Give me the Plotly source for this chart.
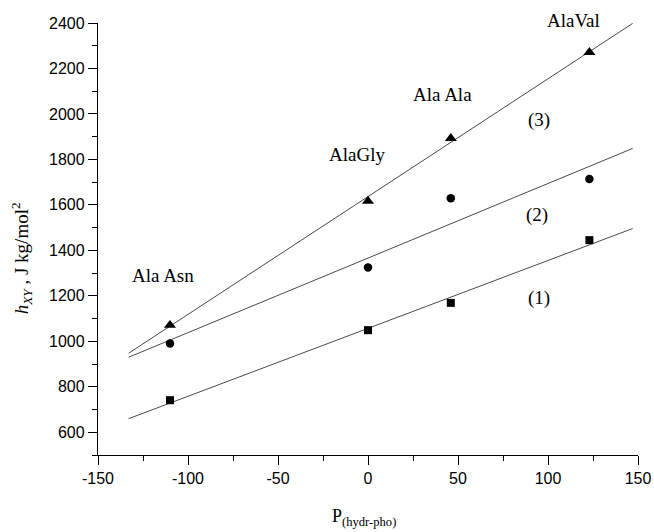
import numpy as np
import plotly.graph_objects as go

# ---- data ----
p_hydr_pho = [-110, 0, 46, 123]                  # x values of the dipeptides
peptides = ["Ala Asn", "AlaGly", "Ala Ala", "AlaVal"]
h_series1 = [741, 1049, 1169, 1445]               # (1) squares
h_series2 = [990, 1325, 1629, 1714]               # (2) circles
h_series3 = [1071, 1617, 1893, 2271]              # (3) triangles
series_names = ["(1)", "(2)", "(3)"]
fit_span = [-133, 147]                            # extent of fitted lines
x_ticks = [-150, -100, -50, 0, 50, 100, 150]
x_tick_text = ["-150", "-100", "-50", "0", "50", "100", "150"]

# ---- placement of text labels (layout, not data) ----
peptide_label_pos = [(-114, 1290), (-6, 1820), (41.5, 2085), (114, 2410)]
series_label_pos = [(95, 1190), (94, 1555), (95, 1975)]

serif = "Liberation Serif, Times New Roman, serif"
sans = "Liberation Sans, Arial, sans-serif"
line_col = "#4a4a4a"
y_range = [500, 2400]

fig = go.Figure()
series = [h_series1, h_series2, h_series3]
symbols = ["square", "circle", "triangle-up"]
msizes = [8, 8.5, 10.5]
xs = np.array(p_hydr_pho, dtype=float)
fx = np.array(fit_span, dtype=float)
for ys, sym, ms, nm in zip(series, symbols, msizes, series_names):
    k, b = np.polyfit(xs, np.array(ys, dtype=float), 1)
    fig.add_trace(go.Scatter(x=fx, y=k * fx + b, mode="lines",
                             line=dict(color=line_col, width=1),
                             showlegend=False, hoverinfo="skip"))
    fig.add_trace(go.Scatter(x=p_hydr_pho, y=ys, mode="markers", name=nm,
                             marker=dict(symbol=sym, size=ms, color="black"),
                             showlegend=False))

ann = []
for (ax_, ay_), t in zip(peptide_label_pos, peptides):
    py = (ay_ - y_range[0]) / (y_range[1] - y_range[0])
    ann.append(dict(x=ax_, y=py, yref="paper", text=t, showarrow=False,
                    xanchor="center", yanchor="middle",
                    font=dict(family=serif, size=19, color="black")))
for (ax_, ay_), t in zip(series_label_pos, series_names):
    ann.append(dict(x=ax_, y=ay_, text=t, showarrow=False,
                    xanchor="center", yanchor="middle",
                    font=dict(family=serif, size=19, color="black")))
ann.append(dict(xref="paper", yref="paper", x=0.493, y=-0.1436,
                xanchor="center", yanchor="middle", showarrow=False,
                text="P<sub>(hydr-pho)</sub>",
                font=dict(family=serif, size=18, color="black")))
ann.append(dict(xref="paper", yref="paper", x=-0.1420, y=0.456,
                xanchor="center", yanchor="middle", showarrow=False,
                textangle=-90,
                text="<i>h</i><sub><i>XY</i></sub> , J kg/mol<sup>2</sup>",
                font=dict(family=serif, size=19, color="black")))

axis_common = dict(showgrid=False, zeroline=False, showline=True,
                   automargin=False,
                   linecolor="black", linewidth=1.3, ticks="outside",
                   ticklen=9, tickwidth=1.3, tickcolor="black",
                   tickfont=dict(family=sans, size=16, color="black"))

fig.update_layout(
    width=654, height=532,
    margin=dict(l=98, r=16, t=23, b=77, autoexpand=False),
    paper_bgcolor="white", plot_bgcolor="white",
    annotations=ann,
    xaxis=dict(range=[-150, 150], tickvals=x_ticks, ticktext=x_tick_text,
               minor=dict(dtick=25, ticks="outside", ticklen=5,
                          tickwidth=1.3, tickcolor="black", showgrid=False),
               **axis_common),
    yaxis=dict(range=y_range, dtick=200, tick0=600,
               minor=dict(dtick=100, ticks="outside", ticklen=5,
                          tickwidth=1.3, tickcolor="black", showgrid=False),
               **axis_common),
)

fig.write_html("out.html",
               config={"displayModeBar": False, "responsive": False},
               post_script="document.body.style.margin='0';"
                           "document.body.style.overflow='hidden';")
